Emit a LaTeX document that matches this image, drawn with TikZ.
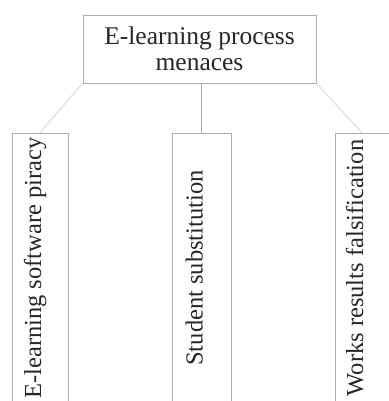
\documentclass[tikz,border=0pt]{standalone}
\usepackage{fontspec}
\setmainfont{Liberation Serif}
\usetikzlibrary{positioning}

\begin{document}
\begin{tikzpicture}[
  x=1pt, y=-1pt,
  menace/.style={draw=gray!65, line width=0.9pt, inner sep=0pt, text=black!85,
                 minimum width=233pt, minimum height=68pt, align=center,
                 font=\fontsize{25.5}{26}\selectfont},
  leaf/.style={draw=gray!65, line width=0.9pt, inner sep=0pt, text=black!85,
               rotate=90, minimum width=270pt, text height=17pt, text depth=15pt,
               font=\fontsize{24.5}{26}\selectfont},
  link/.style={draw=gray!65, line width=0.9pt},
  fade/.style={draw=gray!25, line width=1.2pt},
]
\useasboundingbox (0,0) rectangle (388,401);

\node[menace] (top) at (199.5,49) {E-learning process\\menaces};

\node[leaf, minimum height=56pt] (piracy) at (40,268) {E-learning software piracy};
\node[leaf, minimum height=59pt] (subst) at (201.5,268) {Student substitution};
\node[leaf, minimum height=54pt] (falsif) at (362,268) {Works results falsification};

\draw[link] (subst.east) -- (subst.east |- top.south);
\draw[fade] (top.south west) -- (piracy.east);
\draw[fade] (top.south east) -- (falsif.east);
\end{tikzpicture}
\end{document}
